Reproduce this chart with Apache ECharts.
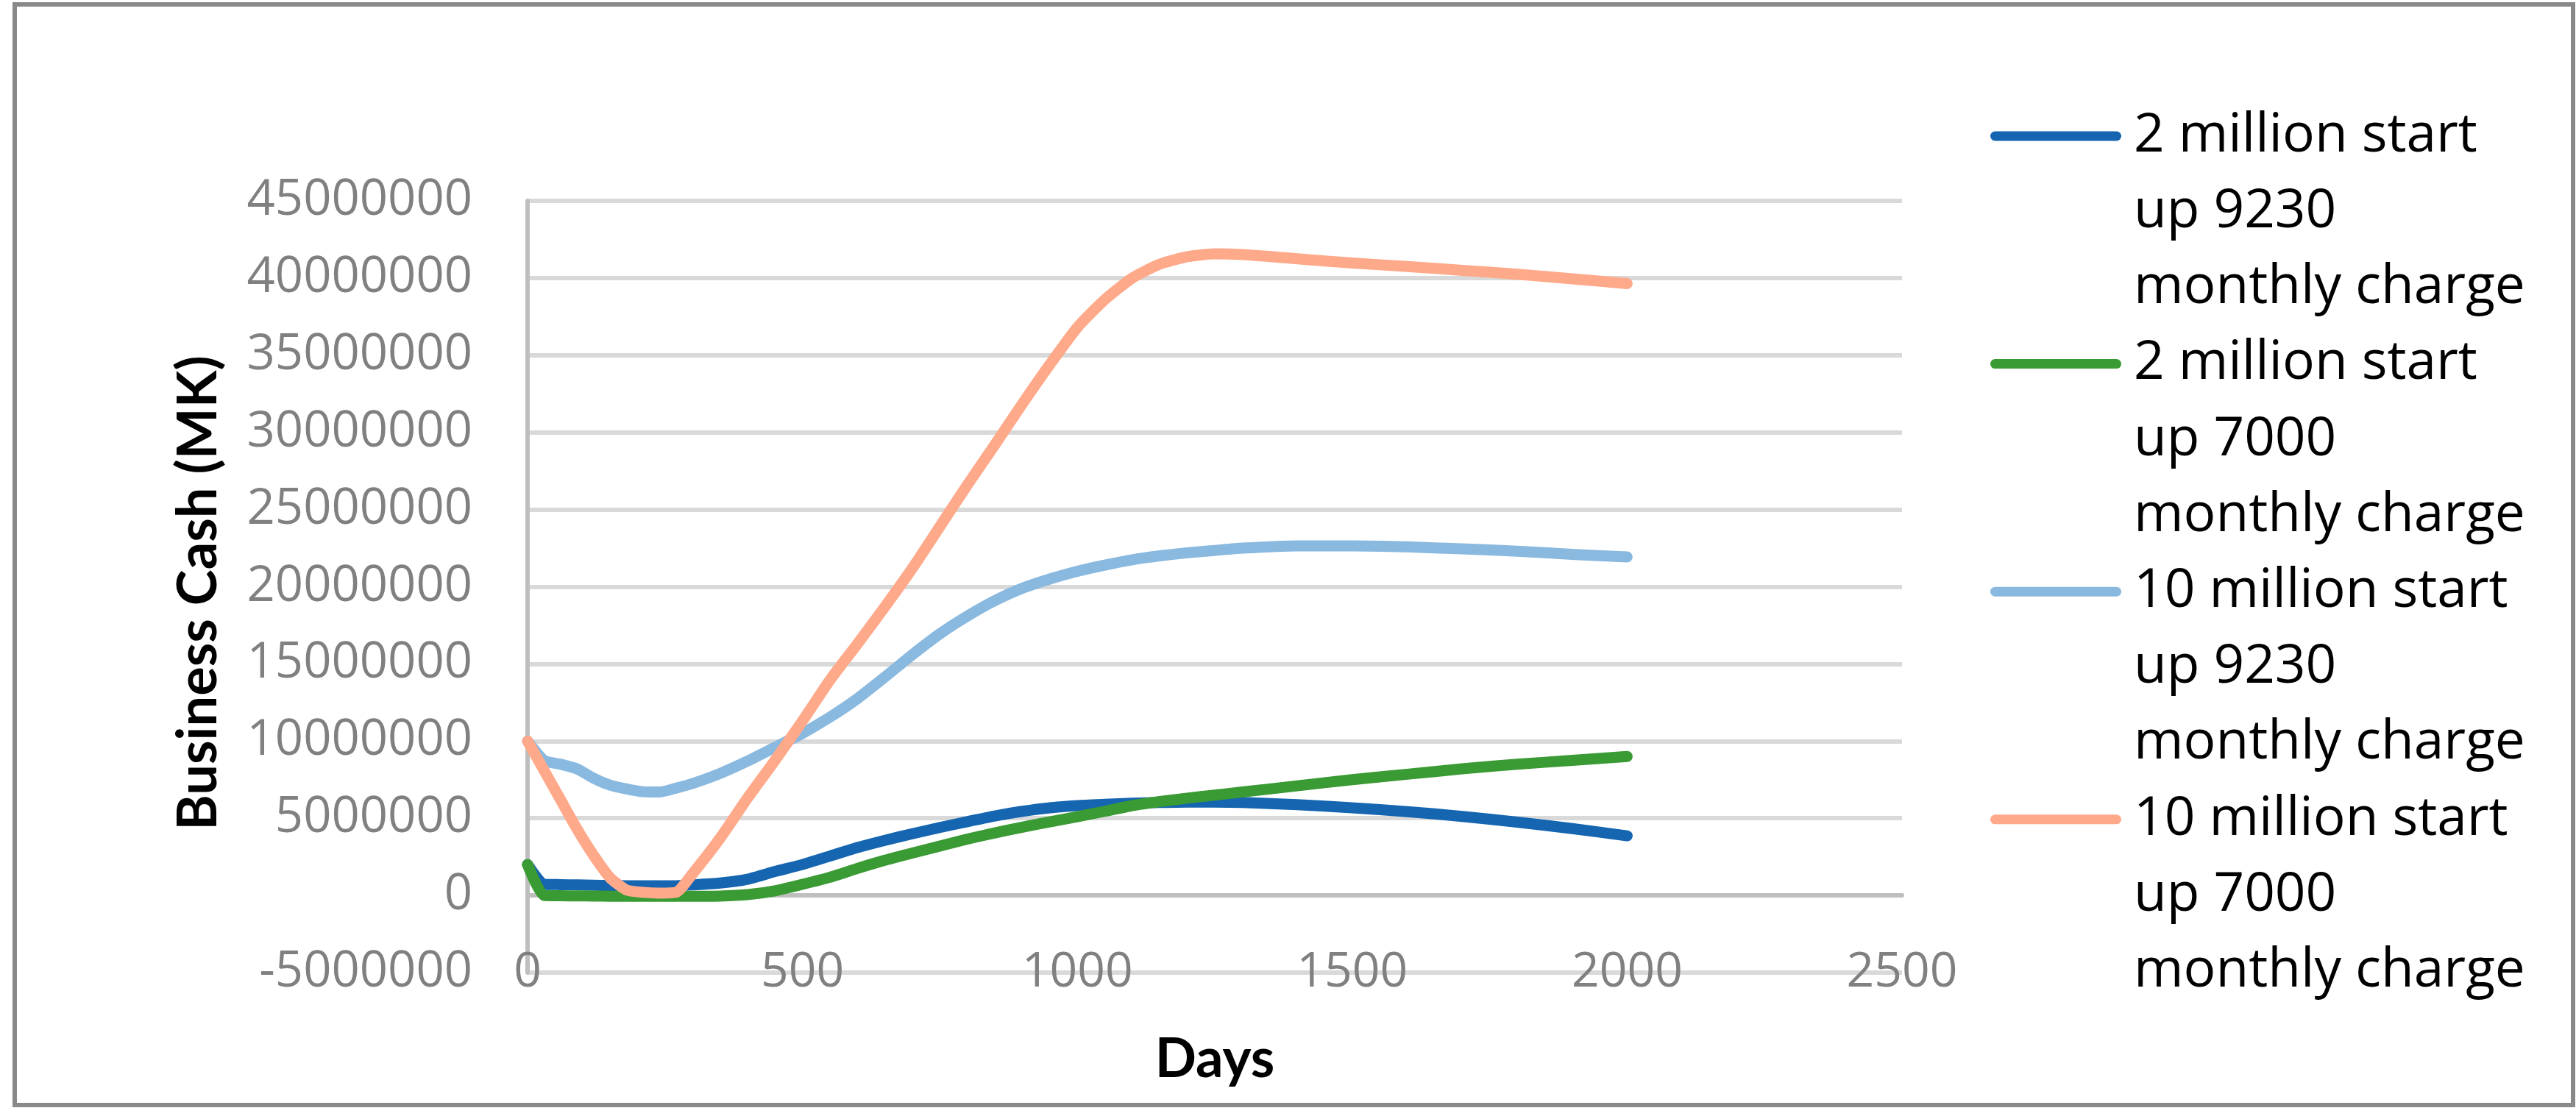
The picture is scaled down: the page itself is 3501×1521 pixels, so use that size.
<!DOCTYPE html>
<html>
<head>
<meta charset="utf-8">
<script src="https://cdn.jsdelivr.net/npm/echarts@6/dist/echarts.min.js"></script>
<style>
html,body{margin:0;padding:0;background:#ffffff;}
#chart{width:3501px;height:1521px;}
</style>
</head>
<body>
<div id="chart"></div>
<script>
// X values (days)
const days = [0, 30, 60, 90, 120, 150, 180, 210, 240, 270, 300, 350, 400, 450, 500, 550, 600, 650, 700, 750, 800, 850, 900, 950, 1000, 1050, 1100, 1150, 1200, 1250, 1300, 1400, 1500, 1600, 1700, 1800, 1900, 2000];

// Business cash values, in millions of MK
const cash2m9230 = [2.0, 0.72, 0.70, 0.68, 0.66, 0.64, 0.63, 0.62, 0.62, 0.63, 0.68, 0.80, 1.05, 1.55, 2.00, 2.55, 3.10, 3.57, 4.00, 4.40, 4.78, 5.15, 5.45, 5.68, 5.82, 5.90, 5.97, 6.02, 6.05, 6.05, 6.02, 5.88, 5.68, 5.43, 5.12, 4.75, 4.33, 3.86];
const cash2m7000 = [2.0, 0.0, -0.02, -0.03, -0.04, -0.05, -0.05, -0.05, -0.05, -0.05, -0.05, -0.04, 0.05, 0.30, 0.72, 1.18, 1.75, 2.28, 2.75, 3.20, 3.65, 4.05, 4.42, 4.77, 5.10, 5.45, 5.82, 6.08, 6.30, 6.50, 6.70, 7.10, 7.50, 7.85, 8.20, 8.50, 8.75, 9.00];
const cash10m9230 = [10.0, 8.75, 8.50, 8.20, 7.60, 7.15, 6.90, 6.72, 6.70, 6.95, 7.25, 7.90, 8.70, 9.60, 10.50, 11.55, 12.75, 14.15, 15.60, 16.95, 18.10, 19.10, 19.90, 20.50, 21.00, 21.40, 21.75, 22.00, 22.20, 22.35, 22.50, 22.65, 22.65, 22.58, 22.45, 22.30, 22.10, 21.93];
const cash10m7000 = [10.0, 8.10, 6.20, 4.30, 2.60, 1.15, 0.35, 0.20, 0.15, 0.20, 1.40, 3.70, 6.30, 8.75, 11.30, 13.95, 16.30, 18.70, 21.20, 23.90, 26.60, 29.20, 31.85, 34.40, 36.80, 38.60, 40.00, 40.90, 41.38, 41.57, 41.52, 41.25, 40.97, 40.75, 40.50, 40.25, 39.95, 39.64];

// Series names and legend text lines
const seriesNames = [
  '2 million start up 9230 monthly charge',
  '2 million start up 7000 monthly charge',
  '10 million start up 9230 monthly charge',
  '10 million start up 7000 monthly charge'
];
const legendLines = [
  ['2 million start', 'up 9230', 'monthly charge'],
  ['2 million start', 'up 7000', 'monthly charge'],
  ['10 million start', 'up 9230', 'monthly charge'],
  ['10 million start', 'up 7000', 'monthly charge']
];
const seriesValues = [cash2m9230, cash2m7000, cash10m9230, cash10m7000];
const seriesColors = ['#1565B0', '#3A9A33', '#8AB9E0', '#FEA98A'];

// Axis settings
const yMin = -5000000, yMax = 45000000, yStep = 5000000;
const xMin = 0, xMax = 2500, xStep = 500;

const UNIT = 1000000;

const chart = echarts.init(document.getElementById('chart'), null, {renderer: 'canvas'});

const series = seriesNames.map((name, i) => ({
  name: name,
  type: 'line',
  data: days.map((d, j) => [d, seriesValues[i][j] * UNIT]),
  showSymbol: false,
  symbol: 'none',
  smooth: 0.2,
  lineStyle: {width: 15, color: seriesColors[i], cap: 'round', join: 'round'},
  itemStyle: {color: seriesColors[i]},
  emphasis: {disabled: true},
  animation: false,
  z: 2 + i
}));

const LINE_H = 103.2;

chart.setOption({
  animation: false,
  backgroundColor: '#ffffff',
  grid: {left: 717, right: 916, top: 273, bottom: 199, containLabel: false},
  xAxis: {
    type: 'value',
    min: xMin, max: xMax, interval: xStep,
    z: 3,
    axisLine: {show: true, onZero: true, lineStyle: {color: '#BFBFBF', width: 6}},
    axisTick: {show: false},
    splitLine: {show: false},
    axisLabel: {
      color: '#808080', fontFamily: 'Open Sans', fontSize: 66, margin: -33,
      formatter: v => String(v)
    }
  },
  yAxis: {
    type: 'value',
    min: yMin, max: yMax, interval: yStep,
    z: 1,
    axisLine: {show: true, onZero: false, lineStyle: {color: '#BFBFBF', width: 6}},
    axisTick: {show: false},
    splitLine: {show: true, lineStyle: {color: '#D9D9D9', width: 6}},
    axisLabel: {
      color: '#808080', fontFamily: 'Open Sans', fontSize: 67, margin: 75,
      formatter: v => String(v)
    }
  },
  legend: {
    orient: 'vertical',
    left: 2705,
    top: 185 - (5 * LINE_H) / 2,
    padding: 0,
    itemGap: -2 * LINE_H,
    itemWidth: 178,
    itemHeight: 13,
    icon: 'path://M6.5,0H171.5A6.5,6.5,0,0,1,171.5,13H6.5A6.5,6.5,0,0,1,6.5,0Z',
    selectedMode: false,
    data: seriesNames,
    formatter: name => '\n\n' + legendLines[seriesNames.indexOf(name)].join('\n'),
    textStyle: {
      color: '#000000', fontFamily: 'Open Sans', fontSize: 73,
      lineHeight: LINE_H, padding: [0, 0, 0, 12]
    }
  },
  graphic: [
    {
      type: 'rect', silent: true, z: 0,
      shape: {x: 20, y: 6, width: 3477, height: 1496},
      style: {fill: 'none', stroke: '#898989', lineWidth: 6}
    },
    {
      type: 'text', silent: true,
      x: 1651, y: 1440,
      style: {text: 'Days', fontFamily: 'Lato', fontWeight: 'bold', fontSize: 74,
              fill: '#000000', align: 'center', verticalAlign: 'middle'}
    },
    {
      type: 'text', silent: true,
      x: 270, y: 806, rotation: Math.PI / 2,
      style: {text: 'Business Cash (MK)', fontFamily: 'Lato', fontWeight: 'bold', fontSize: 74,
              fill: '#000000', align: 'center', verticalAlign: 'middle'}
    }
  ],
  series: series
});
</script>
</body>
</html>
